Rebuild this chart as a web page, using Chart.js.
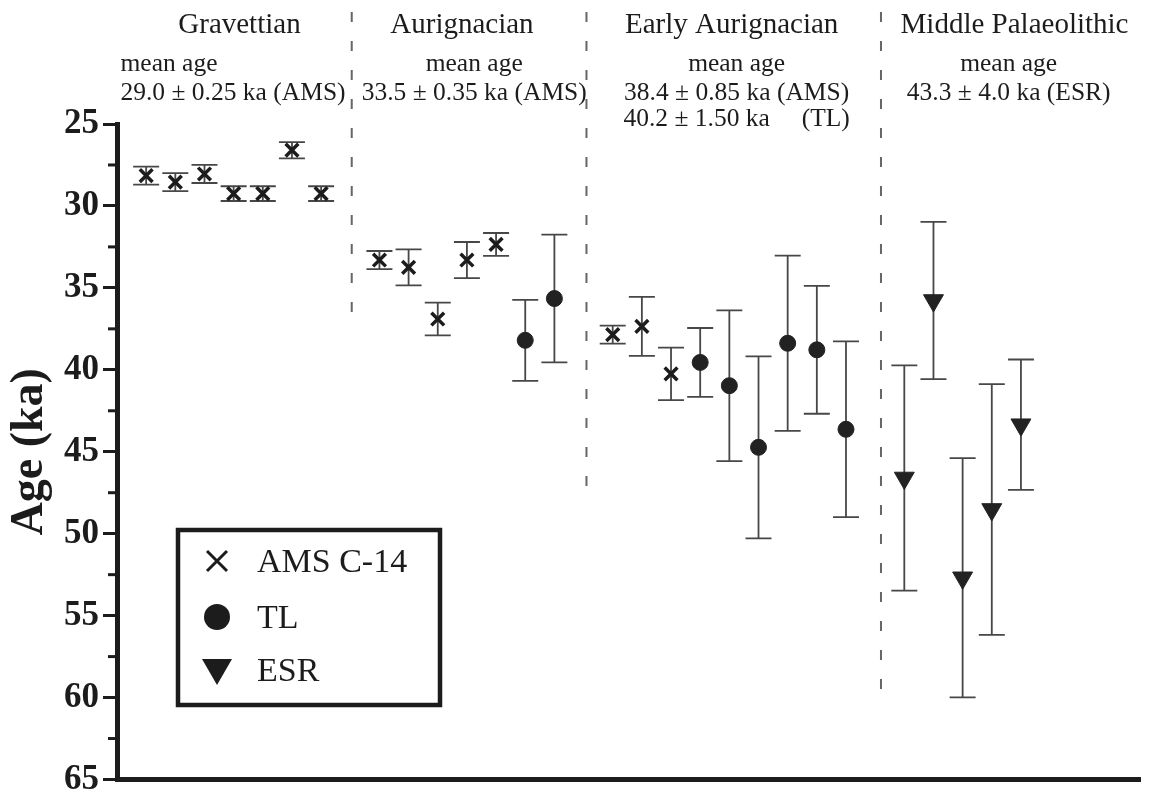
<!DOCTYPE html>
<html>
<head>
<meta charset="utf-8">
<script src="https://cdn.jsdelivr.net/npm/chart.js@4.4.0/dist/chart.umd.min.js"></script>
<style>
html, body { margin: 0; padding: 0; background: #fff; overflow: hidden; }
canvas { display: block; }
</style>
</head>
<body>
<canvas id="ages" width="1153" height="792"></canvas>
<script>
// AMS C-14 dates (crosses)
const amsX = [1, 2, 3, 4, 5, 6, 7, 9, 10, 11, 12, 13, 17, 18, 19]
const amsAge = [28.15, 28.55, 28.05, 29.25, 29.25, 26.6, 29.25, 33.3, 33.75, 36.9, 33.3, 32.35, 37.85, 37.35, 40.25]
const amsErr = [0.55, 0.55, 0.55, 0.45, 0.45, 0.5, 0.45, 0.55, 1.1, 1.0, 1.1, 0.7, 0.55, 1.8, 1.6]

// TL dates (circles)
const tlX = [14, 15, 20, 21, 22, 23, 24, 25]
const tlAge = [38.2, 35.65, 39.55, 40.97, 44.73, 38.38, 38.78, 43.63]
const tlErr = [2.47, 3.9, 2.1, 4.6, 5.55, 5.35, 3.9, 5.36]

// ESR dates (triangles)
const esrX = [27, 28, 29, 30, 31]
const esrAge = [46.6, 35.77, 52.69, 48.52, 43.35]
const esrErr = [6.87, 4.8, 7.3, 7.65, 3.98]

// y axis ticks
const ageMin = 25
const ageMax = 65
const majorStep = 5
const minorTicks = [27.5, 32.5, 37.5, 42.5, 47.5, 52.5, 57.5, 62.5]

// culture groups and dashed separators
const dividerX = [8.05, 16.1, 26.2]
const dividerEnd = [37.0, 47.5, 60.3]
const groupNames = ['Gravettian', 'Aurignacian', 'Early Aurignacian', 'Middle Palaeolithic']
const groupCentre = [4.2, 11.83, 21.08, 30.78]
const meanAgeLines = [
    ['mean age', '29.0 ± 0.25 ka (AMS)'],
    ['mean age', '33.5 ± 0.35 ka (AMS)'],
    ['mean age', '38.4 ± 0.85 ka (AMS)', '40.2 ± 1.50 ka     (TL)'],
    ['mean age', '43.3 ± 4.0 ka (ESR)']
]
const meanAgeX = [0.12, 12.25, 21.25, 30.58]
const meanAgeAlign = ['left', 'center', 'center', 'center']

const serif = "'Liberation Serif', 'Times New Roman', serif"
const ink = '#1c1c1c'

function points(xs, ys, errs) {
    return xs.map(function (x, i) {
        return { x: x, y: ys[i], err: errs[i] }
    })
}

// start: error bars
const errorBars = {
    id: 'errorBars',
    beforeDatasetsDraw(chart) {
        const { ctx, scales: { x, y } } = chart
        ctx.save()
        ctx.strokeStyle = '#474747'
        ctx.lineWidth = 1.8
        chart.data.datasets.forEach(function (ds) {
            ds.data.forEach(function (p) {
                const px = x.getPixelForValue(p.x)
                const top = y.getPixelForValue(p.y - p.err)
                const bot = y.getPixelForValue(p.y + p.err)
                ctx.beginPath()
                ctx.moveTo(px, top); ctx.lineTo(px, bot)
                ctx.moveTo(px - 13, top); ctx.lineTo(px + 13, top)
                ctx.moveTo(px - 13, bot); ctx.lineTo(px + 13, bot)
                ctx.stroke()
            })
        })
        ctx.restore()
    }
}
// end: error bars

// start: dividers, minor ticks, headers
const decorations = {
    id: 'decorations',
    beforeDatasetsDraw(chart) {
        const { ctx, scales: { x, y } } = chart
        ctx.save()
        ctx.strokeStyle = '#666'
        ctx.lineWidth = 2
        ctx.setLineDash([10, 19])
        dividerX.forEach(function (v, i) {
            const px = x.getPixelForValue(v)
            ctx.beginPath()
            ctx.moveTo(px, 12)
            ctx.lineTo(px, y.getPixelForValue(dividerEnd[i]))
            ctx.stroke()
        })
        ctx.setLineDash([])
        ctx.strokeStyle = ink
        ctx.lineWidth = 3
        minorTicks.forEach(function (v) {
            const py = y.getPixelForValue(v)
            ctx.beginPath()
            ctx.moveTo(x.left - 9, py)
            ctx.lineTo(x.left, py)
            ctx.stroke()
        })
        ctx.restore()
    },
    afterDraw(chart) {
        const { ctx, scales: { x } } = chart
        ctx.save()
        ctx.fillStyle = ink
        ctx.textBaseline = 'alphabetic'
        ctx.textAlign = 'center'
        ctx.font = '29px ' + serif
        groupNames.forEach(function (name, i) {
            ctx.fillText(name, x.getPixelForValue(groupCentre[i]), 33)
        })
        ctx.font = '25.5px ' + serif
        const baselines = [71, 100, 126]
        meanAgeLines.forEach(function (lines, i) {
            ctx.textAlign = meanAgeAlign[i]
            lines.forEach(function (line, j) {
                ctx.fillText(line, x.getPixelForValue(meanAgeX[i]), baselines[j])
            })
        })
        ctx.restore()
    }
}
// end: dividers, minor ticks, headers

// start: legend box
const legendBox = {
    id: 'legendBox',
    afterDraw(chart) {
        const ctx = chart.ctx
        ctx.save()
        ctx.strokeStyle = ink
        ctx.lineWidth = 4.5
        ctx.strokeRect(178, 530, 262, 175)
        const rows = [561, 617, 670]
        const mx = 217
        ctx.fillStyle = ink
        ctx.strokeStyle = ink
        chart.data.datasets.forEach(function (ds, i) {
            const my = rows[i]
            ctx.beginPath()
            if (ds.pointStyle === 'crossRot') {
                ctx.lineWidth = 3
                ctx.moveTo(mx - 10, my - 10); ctx.lineTo(mx + 10, my + 10)
                ctx.moveTo(mx + 10, my - 10); ctx.lineTo(mx - 10, my + 10)
                ctx.stroke()
            } else if (ds.pointStyle === 'circle') {
                ctx.arc(mx, my, 13, 0, Math.PI * 2)
                ctx.fill()
            } else {
                ctx.moveTo(mx - 15, my - 11)
                ctx.lineTo(mx + 15, my - 11)
                ctx.lineTo(mx, my + 15)
                ctx.closePath()
                ctx.fill()
            }
            ctx.font = '34px ' + serif
            ctx.textAlign = 'left'
            ctx.textBaseline = 'middle'
            ctx.fillText(ds.label, 257, my + 2)
        })
        ctx.restore()
    }
}
// end: legend box

new Chart(document.getElementById('ages'), {
    type: 'scatter',
    data: {
        datasets: [
            {
                label: 'AMS C-14',
                data: points(amsX, amsAge, amsErr),
                pointStyle: 'crossRot',
                pointRadius: 9,
                pointBorderWidth: 3.5,
                pointBorderColor: ink,
                pointBackgroundColor: ink
            },
            {
                label: 'TL',
                data: points(tlX, tlAge, tlErr),
                pointStyle: 'circle',
                pointRadius: 8,
                pointBorderWidth: 1,
                pointBorderColor: '#222',
                pointBackgroundColor: '#222'
            },
            {
                label: 'ESR',
                data: points(esrX, esrAge, esrErr),
                pointStyle: 'triangle',
                pointRotation: 180,
                pointRadius: 11.5,
                pointBorderWidth: 1,
                pointBorderColor: '#222',
                pointBackgroundColor: '#222'
            }
        ]
    },
    options: {
        responsive: false,
        animation: false,
        devicePixelRatio: 1,
        layout: { padding: { top: 124, right: 3, bottom: 11, left: 0 } },
        plugins: {
            legend: { display: false },
            tooltip: { enabled: false }
        },
        scales: {
            x: {
                type: 'linear',
                min: 0,
                max: 35.1,
                afterFit: function (scale) {
                    scale.height = 0
                    scale.paddingLeft = 0
                    scale.paddingRight = 0
                },
                border: { display: true, color: ink, width: 5 },
                grid: { display: false },
                ticks: { display: false }
            },
            y: {
                type: 'linear',
                reverse: true,
                min: ageMin,
                max: ageMax,
                afterFit: function (scale) {
                    scale.width = 117
                    scale.paddingTop = 0
                    scale.paddingBottom = 0
                },
                border: { display: true, color: ink, width: 5 },
                grid: { drawOnChartArea: false, drawTicks: true, tickLength: 14, tickWidth: 3, tickColor: ink },
                ticks: {
                    stepSize: majorStep,
                    padding: 4,
                    color: ink,
                    font: { family: serif, size: 35, weight: 'bold' }
                },
                title: {
                    display: true,
                    text: 'Age (ka)',
                    color: ink,
                    font: { family: serif, size: 46, weight: 'bold' },
                    padding: { top: 3, bottom: 0 }
                }
            }
        }
    },
    plugins: [decorations, errorBars, legendBox]
});
</script>
</body>
</html>
